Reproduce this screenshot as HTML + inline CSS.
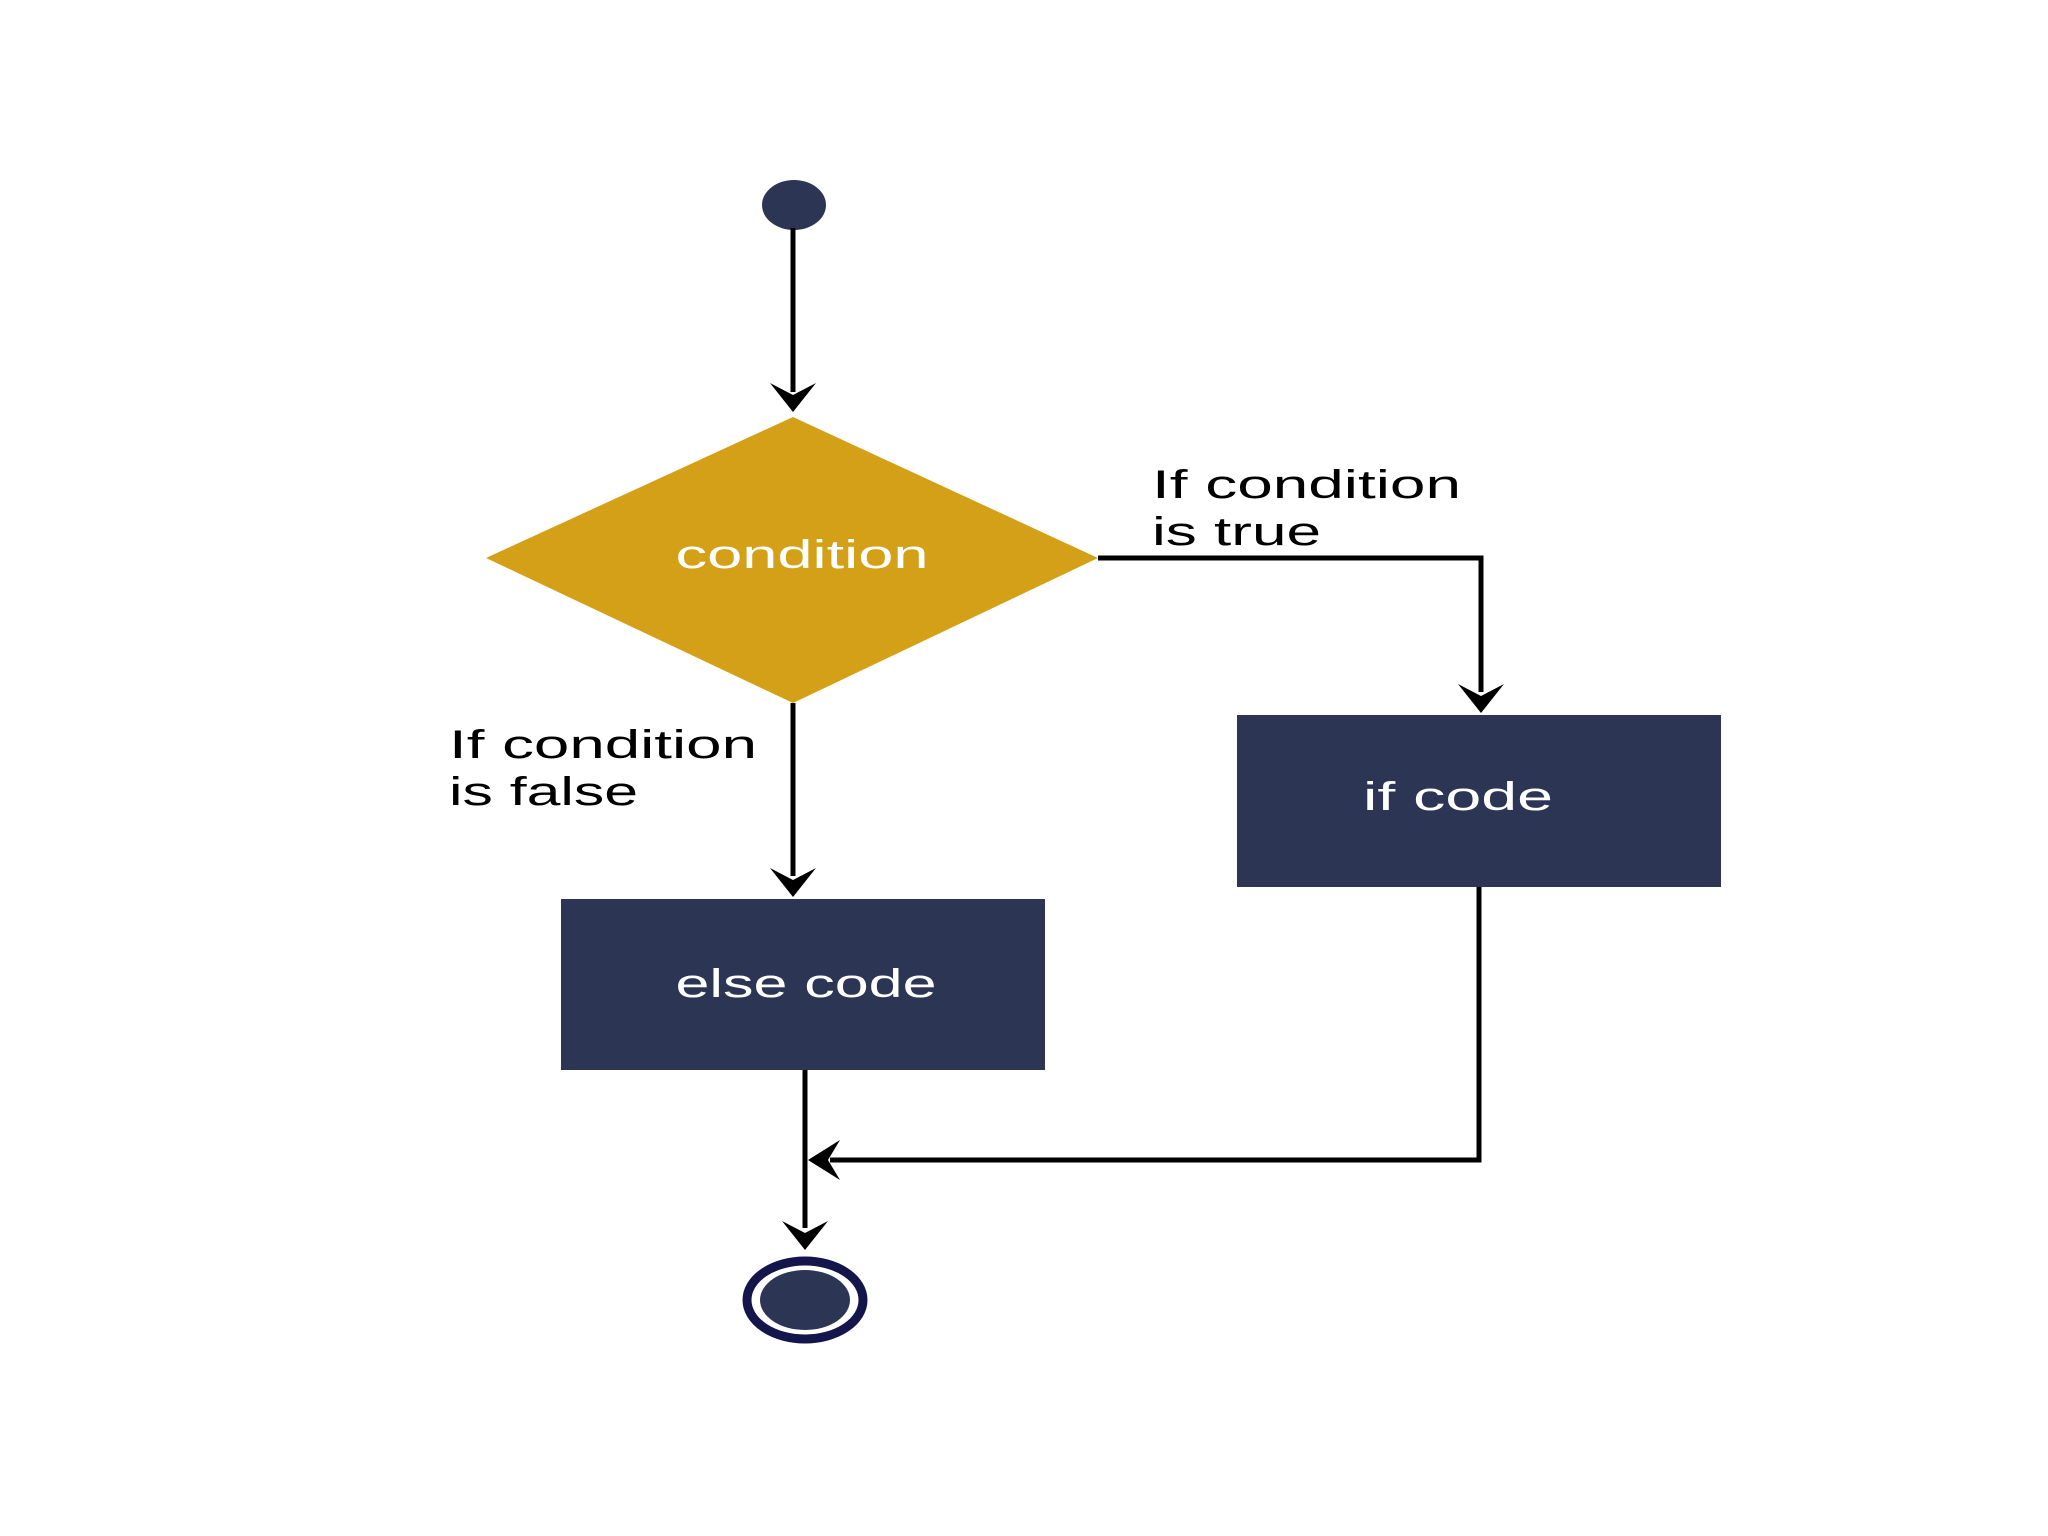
<!DOCTYPE html>
<html><head><meta charset="utf-8"><style>html,body{margin:0;padding:0;background:#fff}svg{display:block}</style></head>
<body>
<svg width="2048" height="1536" viewBox="0 0 2048 1536" xmlns="http://www.w3.org/2000/svg" font-family="Liberation Sans, Arial, sans-serif">
<rect width="2048" height="1536" fill="#fff"/>
<defs><marker id="a" markerWidth="12" markerHeight="12" refX="10" refY="6" orient="auto" markerUnits="userSpaceOnUse" viewBox="0 0 12 12"><path d="M0,0 L12,6 L0,12 L4,6 Z" fill="#000"/></marker></defs>
<ellipse cx="794" cy="205" rx="32" ry="25" fill="#2c3654"/>
<g stroke="#000" stroke-width="5" fill="none">
<line x1="793" y1="228" x2="793" y2="392"/>
<polyline points="1098,558 1481,558 1481,692"/>
<line x1="793" y1="703" x2="793" y2="876"/>
<polyline points="1479,878 1479,1160 830,1160"/>
<line x1="805" y1="1070" x2="805" y2="1228"/>
</g>
<g fill="#000">
<path d="M770,383 L793,412 L816,383 L793,395 Z"/>
<path d="M1458,684 L1481,713 L1504,684 L1481,696 Z"/>
<path d="M770,868 L793,897 L816,868 L793,880 Z"/>
<path d="M782,1221 L805,1250 L828,1221 L805,1233 Z"/>
<path d="M840,1140 L808,1160 L840,1180 L828,1160 Z"/>
</g>
<polygon points="793,417 1098,558 793,703 486,558" fill="#d4a017"/>
<text x="802" y="568" font-size="40" fill="#fff" text-anchor="middle" textLength="253" lengthAdjust="spacingAndGlyphs">condition</text>
<rect x="1237" y="715" width="484" height="172" fill="#2c3654"/>
<text x="1458" y="810" font-size="40" fill="#fff" text-anchor="middle" textLength="190" lengthAdjust="spacingAndGlyphs">if code</text>
<rect x="561" y="899" width="484" height="171" fill="#2c3654"/>
<text x="806" y="997" font-size="40" fill="#fff" text-anchor="middle" textLength="261" lengthAdjust="spacingAndGlyphs">else code</text>
<text x="1152" y="498" font-size="40" fill="#000" textLength="309" lengthAdjust="spacingAndGlyphs">If condition</text>
<text x="1152" y="545" font-size="40" fill="#000" textLength="169" lengthAdjust="spacingAndGlyphs">is true</text>
<text x="449" y="758" font-size="40" fill="#000" textLength="308" lengthAdjust="spacingAndGlyphs">If condition</text>
<text x="449" y="805" font-size="40" fill="#000" textLength="189" lengthAdjust="spacingAndGlyphs">is false</text>
<ellipse cx="805" cy="1300" rx="58" ry="39" fill="#fff" stroke="#14154a" stroke-width="9"/>
<ellipse cx="805" cy="1300" rx="45" ry="30" fill="#2c3654"/>
</svg>
</body></html>
